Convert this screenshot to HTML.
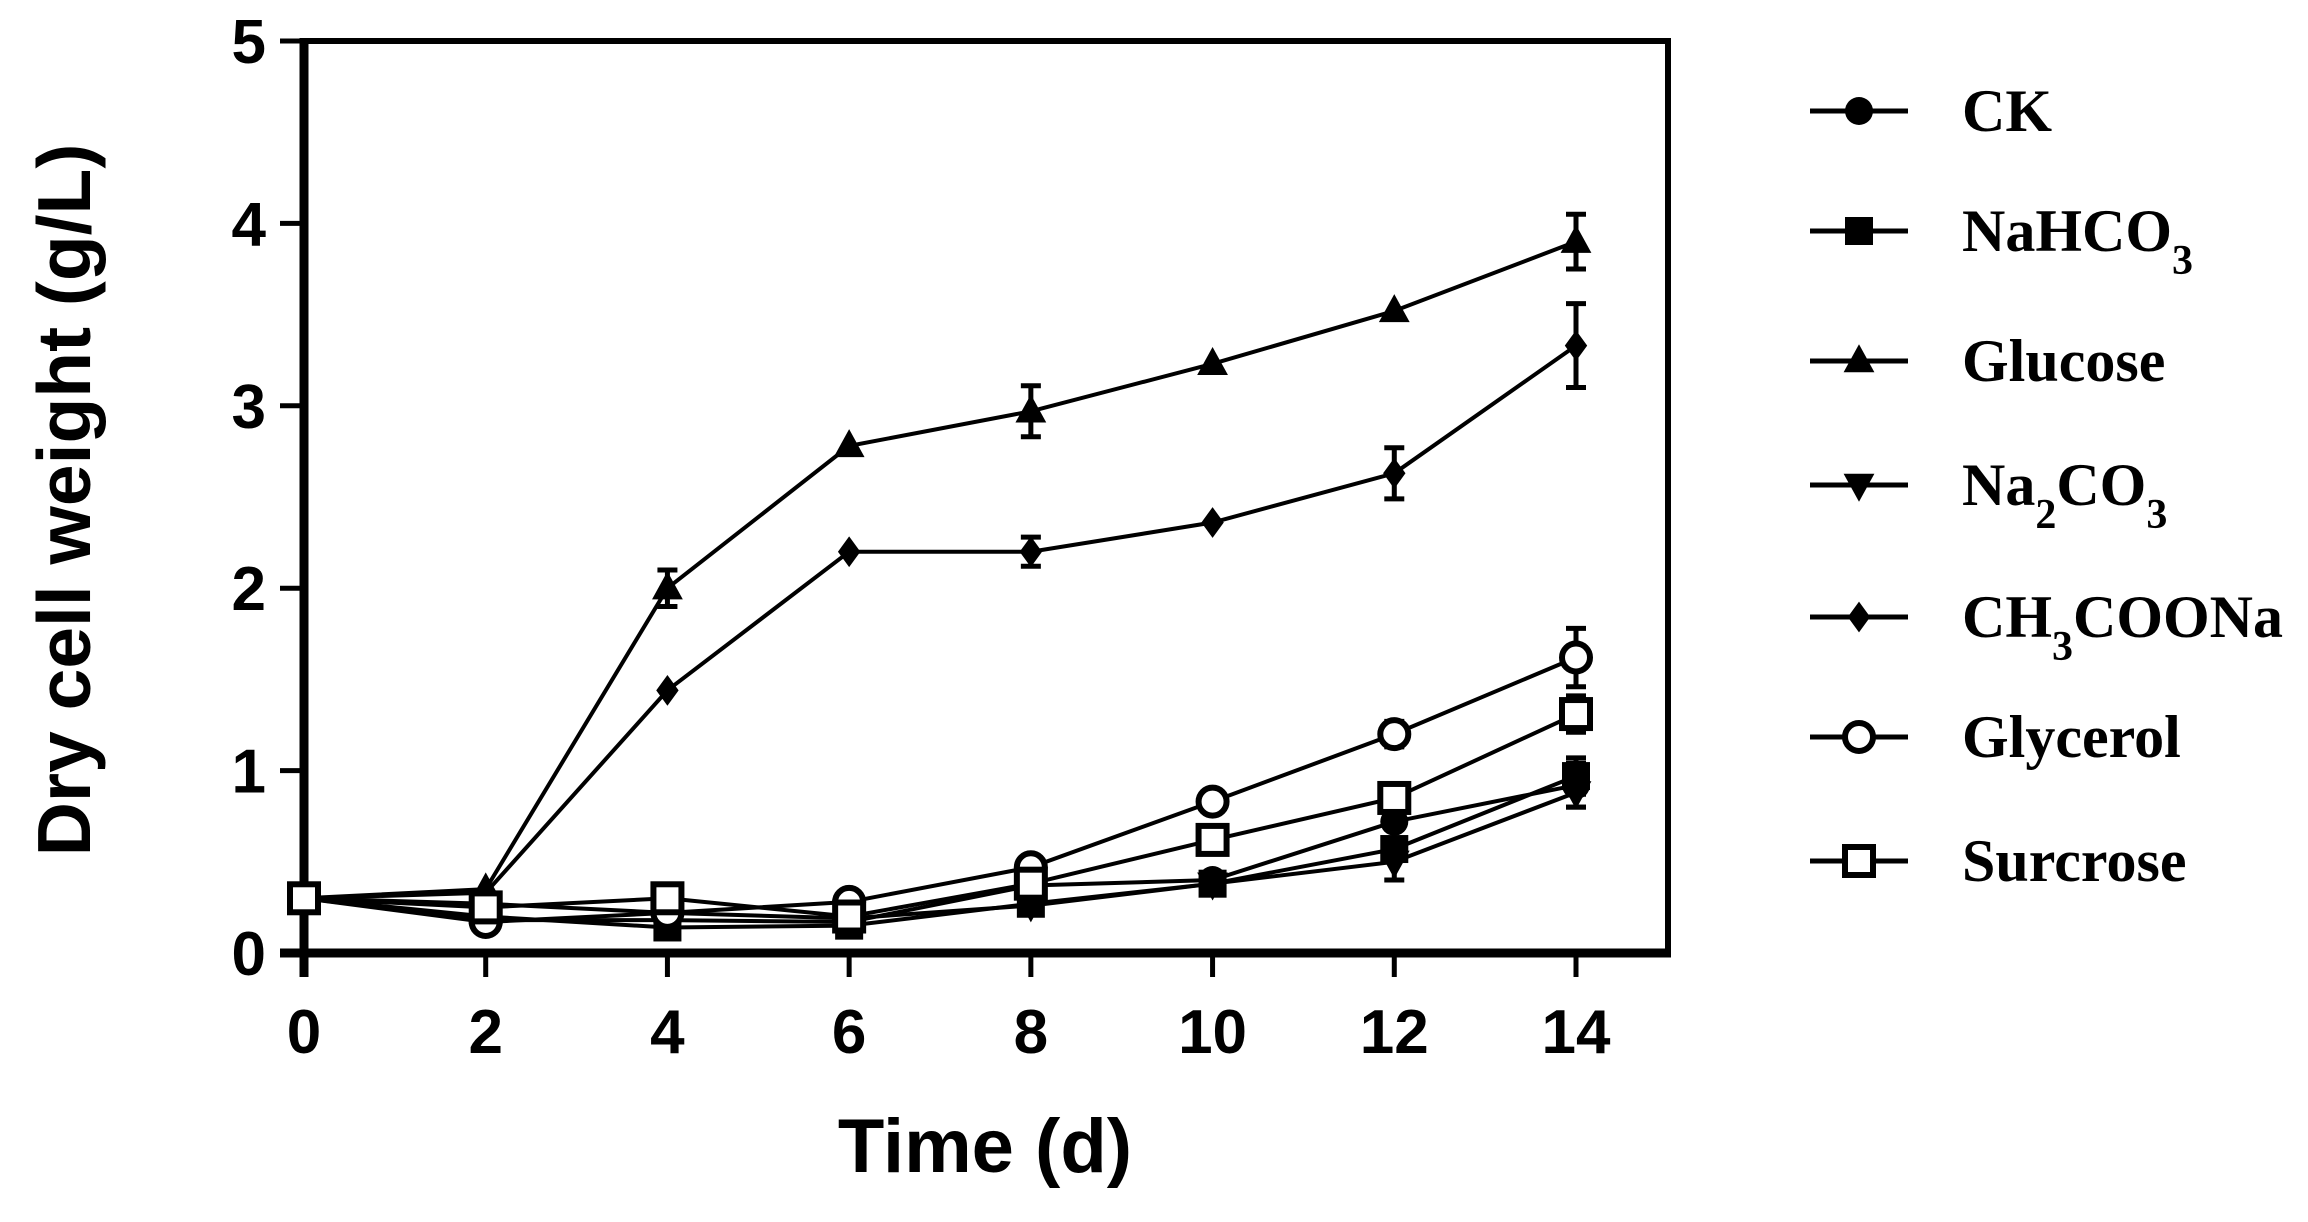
<!DOCTYPE html>
<html><head><meta charset="utf-8"><style>
html,body{margin:0;padding:0;background:#fff;}
svg{display:block;}
</style></head><body>
<svg id="chart" width="2308" height="1222" viewBox="0 0 2308 1222" xmlns="http://www.w3.org/2000/svg">
<g id="axes"></g>
<g id="series"></g>
<g id="legend"></g>
<text x="985" y="1172" text-anchor="middle" font-family="Liberation Sans, sans-serif" font-weight="bold" font-size="76">Time (d)</text>
<text transform="translate(90,500) rotate(-90)" text-anchor="middle" font-family="Liberation Sans, sans-serif" font-weight="bold" font-size="75">Dry cell weight (g/L)</text>
</svg>
<script>
const days = [0,2,4,6,8,10,12,14];
const xTicks = [0,2,4,6,8,10,12,14];
const yTicks = [0,1,2,3,4,5];
const seriesNames = ["CK","NaHCO3","Glucose","Na2CO3","CH3COONa","Glycerol","Surcrose"];
const ck = [0.3,0.18,0.18,0.17,0.37,0.40,0.72,0.92];
const nahco3 = [0.3,0.20,0.14,0.15,0.27,0.38,0.57,0.97];
const glucose = [0.3,0.35,2.00,2.78,2.97,3.23,3.52,3.90];
const na2co3 = [0.3,0.27,0.22,0.19,0.26,0.38,0.50,0.88];
const ch3coona = [0.3,0.33,1.44,2.20,2.20,2.36,2.63,3.33];
const glycerol = [0.3,0.17,0.22,0.28,0.47,0.83,1.20,1.62];
const surcrose = [0.3,0.25,0.30,0.20,0.38,0.62,0.85,1.31];
const ckErr = [0.02,0.02,0.02,0.02,0.03,0.03,0.04,0.12];
const nahco3Err = [0.02,0.02,0.02,0.02,0.03,0.03,0.05,0.10];
const glucoseErr = [0.02,0.02,0.10,0.03,0.14,0.03,0.03,0.15];
const na2co3Err = [0.02,0.02,0.02,0.02,0.03,0.03,0.10,0.08];
const ch3coonaErr = [0.02,0.02,0.03,0.03,0.08,0.03,0.14,0.23];
const glycerolErr = [0.02,0.02,0.02,0.02,0.03,0.04,0.07,0.16];
const surcroseErr = [0.02,0.02,0.02,0.02,0.03,0.04,0.05,0.10];

const NS="http://www.w3.org/2000/svg";
const X0=304, XW=(1576-304)/14, Y0=953, YU=(953-41)/5, XR=1668;
const xs=t=>X0+t*XW, ys=v=>Y0-v*YU;
function mk(tag,attrs,parent){const e=document.createElementNS(NS,tag);for(const k in attrs)e.setAttribute(k,attrs[k]);parent.appendChild(e);return e;}
const axes=document.getElementById('axes'), ser=document.getElementById('series'), leg=document.getElementById('legend');
const F="Liberation Sans, sans-serif";
const frame=mk('path',{d:`M${xs(0)} ${ys(5)} H${XR} V${Y0}`,fill:'none',stroke:'#000','stroke-width':6},axes);


mk('line',{x1:xs(0),y1:ys(5)-3,x2:xs(0),y2:Y0+24,stroke:'#000','stroke-width':9},axes);
mk('line',{x1:xs(0)-24,y1:Y0,x2:XR+3,y2:Y0,stroke:'#000','stroke-width':9},axes);
yTicks.forEach(v=>{
  const l=mk('line',{x1:xs(0)-24,y1:ys(v),x2:xs(0),y2:ys(v),stroke:'#000','stroke-width':5},axes);
  
  
  const t=mk('text',{x:xs(0)-38,y:ys(v)+22,'text-anchor':'end','font-family':F,'font-weight':'bold','font-size':62},axes);
  t.textContent=v;
  
  
});
xTicks.forEach(v=>{
  const l=mk('line',{x1:xs(v),y1:Y0,x2:xs(v),y2:Y0+24,stroke:'#000','stroke-width':5},axes);
  
  
  const t=mk('text',{x:xs(v),y:Y0+100,'text-anchor':'middle','font-family':F,'font-weight':'bold','font-size':62},axes);
  t.textContent=v;
  
  
});
function marker(type,cx,cy,p,s){
  s=s||14;
  if(type==='circle') return mk('circle',{cx,cy,r:s,fill:'#000'},p);
  if(type==='square') return mk('rect',{x:cx-s,y:cy-s,width:2*s,height:2*s,fill:'#000'},p);
  if(type==='tri') return mk('polygon',{points:`${cx},${cy-s*1.2} ${cx+s*1.1},${cy+s*0.8} ${cx-s*1.1},${cy+s*0.8}`,fill:'#000'},p);
  if(type==='tridown') return mk('polygon',{points:`${cx},${cy+s*1.2} ${cx+s*1.1},${cy-s*0.8} ${cx-s*1.1},${cy-s*0.8}`,fill:'#000'},p);
  if(type==='diamond') return mk('polygon',{points:`${cx},${cy-s*1.1} ${cx+s*0.8},${cy} ${cx},${cy+s*1.1} ${cx-s*0.8},${cy}`,fill:'#000'},p);
  if(type==='ocircle') return mk('circle',{cx,cy,r:s,fill:'#fff',stroke:'#000','stroke-width':6},p);
  if(type==='osquare') return mk('rect',{x:cx-s,y:cy-s,width:2*s,height:2*s,fill:'#fff',stroke:'#000','stroke-width':6},p);
}
const defs=[
 {name:'CK',vals:ck,err:ckErr,m:'circle'},
 {name:'NaHCO3',vals:nahco3,err:nahco3Err,m:'square'},
 {name:'Glucose',vals:glucose,err:glucoseErr,m:'tri'},
 {name:'Na2CO3',vals:na2co3,err:na2co3Err,m:'tridown'},
 {name:'CH3COONa',vals:ch3coona,err:ch3coonaErr,m:'diamond'},
 {name:'Glycerol',vals:glycerol,err:glycerolErr,m:'ocircle'},
 {name:'Surcrose',vals:surcrose,err:surcroseErr,m:'osquare'}
];
defs.forEach(d=>{
  const g=mk('g',{},ser);
  
  
  const pl=mk('polyline',{points:days.map((t,i)=>xs(t)+','+ys(d.vals[i])).join(' '),fill:'none',stroke:'#000','stroke-width':4},g);
  
  
  days.forEach((t,i)=>{
    const x=xs(t),y1=ys(d.vals[i]+d.err[i]),y2=ys(d.vals[i]-d.err[i]);
    if(d.err[i]>0.04){
      const e=mk('path',{d:`M${x} ${y1} V${y2} M${x-10} ${y1} H${x+10} M${x-10} ${y2} H${x+10}`,stroke:'#000','stroke-width':5,fill:'none'},g);
      
      
    }
  });
  days.forEach((t,i)=>{
    const m=marker(d.m,xs(t),ys(d.vals[i]),g);
    
    
  });
});
const legendY=[111,231,361,485,617,737,861];
const legendHtml=['CK','NaHCO<tspan baseline-shift="sub" font-size="42">3</tspan>','Glucose','Na<tspan baseline-shift="sub" font-size="42">2</tspan>CO<tspan baseline-shift="sub" font-size="42">3</tspan>','CH<tspan baseline-shift="sub" font-size="42">3</tspan>COONa','Glycerol','Surcrose'];
defs.forEach((d,i)=>{
  const g=mk('g',{},leg);
  
  
  mk('line',{x1:1810,y1:legendY[i],x2:1908,y2:legendY[i],stroke:'#000','stroke-width':5},g);
  marker(d.m,1859,legendY[i],g);
  const t=mk('text',{x:1962,y:legendY[i]+20,'font-family':'Liberation Serif, serif','font-weight':'bold','font-size':60},g);
  t.innerHTML=legendHtml[i];
});
</script>
</body></html>
